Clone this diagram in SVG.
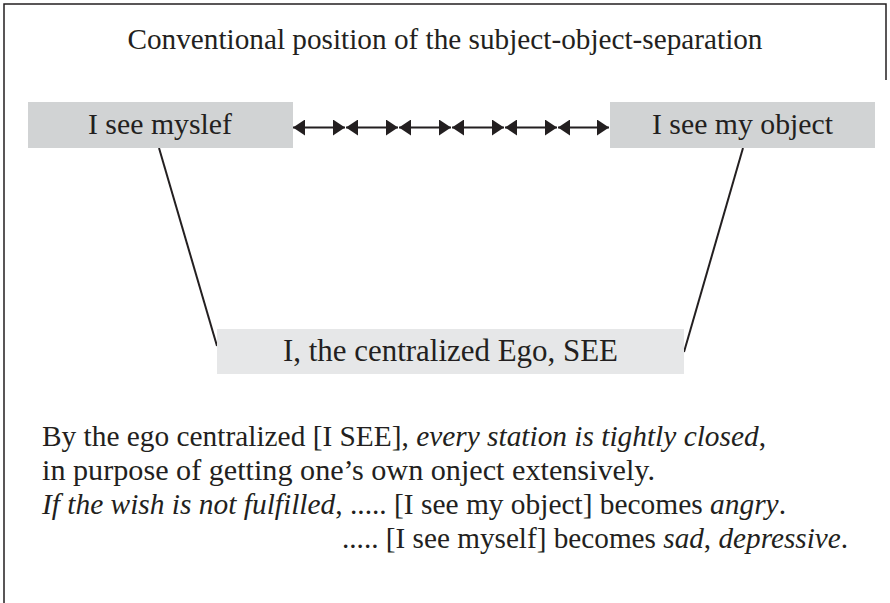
<svg xmlns="http://www.w3.org/2000/svg" width="890" height="603" viewBox="0 0 890 603">
  <style>
    text { font-family: "Liberation Serif", "Times New Roman", serif; fill: #231f20; }
    .title { font-size: 29px; }
    .label { font-size: 29px; }
    .label-lg { font-size: 31px; }
    .para { font-size: 29.5px; }
    .it { font-style: italic; }
    .box-top { fill: #d1d3d4; }
    .box-bottom { fill: #e6e7e8; }
    .link { stroke: #231f20; stroke-width: 2; fill: none; }
    .frame { stroke: #231f20; stroke-width: 1.5; fill: none; }
  </style>
  <defs>
    <marker id="head" viewBox="0 0 12 16" refX="12" refY="8" markerWidth="12" markerHeight="16" markerUnits="userSpaceOnUse" orient="auto-start-reverse">
      <path d="M0,0 L12,8 L0,16 Z" fill="#231f20"/>
    </marker>
  </defs>

  <rect width="890" height="603" fill="#ffffff"/>
  <!-- partial frame -->
  <path class="frame" d="M4,603 V4 H886 V80"/>

  <text class="title" x="445" y="49" text-anchor="middle" textLength="635" lengthAdjust="spacingAndGlyphs">Conventional position of the subject-object-separation</text>

  <g id="connectors">
    <line class="link" x1="159" y1="148" x2="217" y2="346"/>
    <line class="link" x1="743" y1="148" x2="684" y2="352"/>
    <g id="chain" class="link">
      <line x1="293" y1="127.5" x2="345" y2="127.5" marker-start="url(#head)" marker-end="url(#head)"/>
      <line x1="346" y1="127.5" x2="398" y2="127.5" marker-start="url(#head)" marker-end="url(#head)"/>
      <line x1="399" y1="127.5" x2="451" y2="127.5" marker-start="url(#head)" marker-end="url(#head)"/>
      <line x1="452" y1="127.5" x2="504" y2="127.5" marker-start="url(#head)" marker-end="url(#head)"/>
      <line x1="505" y1="127.5" x2="557" y2="127.5" marker-start="url(#head)" marker-end="url(#head)"/>
      <line x1="558" y1="127.5" x2="609" y2="127.5" marker-start="url(#head)" marker-end="url(#head)"/>
    </g>
  </g>

  <g id="node-self">
    <rect class="box-top" x="28" y="102" width="265" height="46"/>
    <text class="label" x="160" y="134" text-anchor="middle" textLength="144" lengthAdjust="spacingAndGlyphs">I see myslef</text>
  </g>

  <g id="node-object">
    <rect class="box-top" x="610" y="102" width="265" height="46"/>
    <text class="label" x="742.5" y="134" text-anchor="middle" textLength="181" lengthAdjust="spacingAndGlyphs">I see my object</text>
  </g>

  <g id="node-ego">
    <rect class="box-bottom" x="217" y="329" width="467" height="45"/>
    <text class="label-lg" x="450.5" y="361" text-anchor="middle" textLength="335" lengthAdjust="spacingAndGlyphs">I, the centralized Ego, SEE</text>
  </g>

  <g id="caption">
    <text class="para" x="42" y="446" textLength="724" lengthAdjust="spacingAndGlyphs">By the ego centralized [I SEE], <tspan class="it">every station is tightly closed</tspan>,</text>
    <text class="para" x="42" y="480" textLength="613" lengthAdjust="spacingAndGlyphs">in purpose of getting one’s own onject extensively.</text>
    <text class="para" x="42" y="514" textLength="744" lengthAdjust="spacingAndGlyphs"><tspan class="it">If the wish is not fulfilled</tspan>, ..... [I see my object] becomes <tspan class="it">angry</tspan>.</text>
    <text class="para" x="342" y="548" textLength="506" lengthAdjust="spacingAndGlyphs">..... [I see myself] becomes <tspan class="it">sad</tspan>, <tspan class="it">depressive</tspan>.</text>
  </g>
</svg>
